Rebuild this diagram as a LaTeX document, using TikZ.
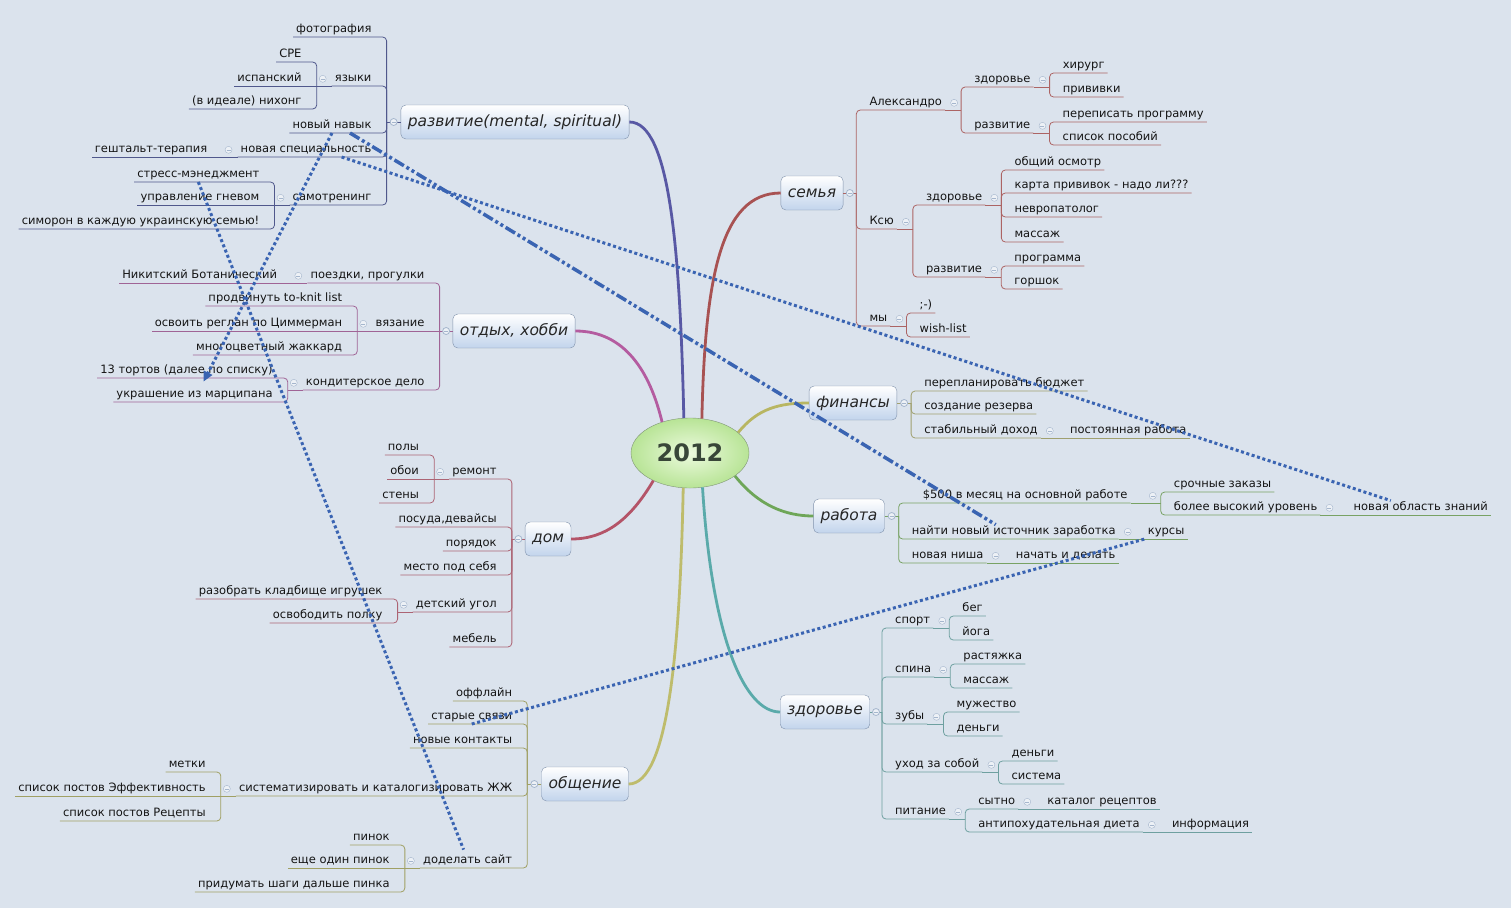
\documentclass[tikz,border=0pt]{standalone}
\usepackage{fontspec}
\setmainfont{DejaVu Sans}
\usetikzlibrary{arrows.meta,calc,shapes.geometric}

\definecolor{bgblue}{RGB}{219,227,237}
\definecolor{boxedge}{RGB}{128,146,172}
\definecolor{boxfill}{RGB}{194,212,236}
\definecolor{hubedge}{RGB}{128,150,118}
\definecolor{hubin}{RGB}{236,250,222}
\definecolor{hubout}{RGB}{184,228,150}
\definecolor{hubtext}{RGB}{56,70,56}
\definecolor{foldc}{RGB}{165,182,205}
\definecolor{relblue}{RGB}{58,100,178}
% ветки
\definecolor{craz}{RGB}{88,88,164}
\definecolor{cotd}{RGB}{180,92,160}
\definecolor{cdom}{RGB}{180,84,104}
\definecolor{cobs}{RGB}{190,188,108}
\definecolor{csem}{RGB}{168,82,82}
\definecolor{cfin}{RGB}{184,182,98}
\definecolor{crab}{RGB}{110,166,88}
\definecolor{czdr}{RGB}{90,170,170}
\definecolor{lnraz}{RGB}{80,88,140}
\definecolor{lnotd}{RGB}{160,100,150}
\definecolor{lndom}{RGB}{172,100,116}
\definecolor{lnobs}{RGB}{160,160,100}
\definecolor{lnsem}{RGB}{172,100,100}
\definecolor{lnfin}{RGB}{160,160,112}
\definecolor{lnrab}{RGB}{120,162,100}
\definecolor{lnzdr}{RGB}{110,160,160}

\begin{document}
\begin{tikzpicture}[x=1pt, y=-1pt,
  sub/.style={font=\fontsize{11.5}{13}\selectfont, text=black!92, inner xsep=3pt, inner ysep=1.5pt, text height=8.5pt, text depth=2.5pt},
  lt/.style={sub, anchor=south east},
  rt/.style={sub, anchor=south west},
  topic/.style={draw=boxedge, rounded corners=5pt, top color=white, bottom color=boxfill, font=\fontsize{15.5}{17}\selectfont\itshape, text=black!85, minimum height=34pt, inner xsep=7pt},
  hub/.style={ellipse, draw=hubedge, inner color=hubin, outer color=hubout, minimum width=118pt, minimum height=70pt, font=\fontsize{24}{26}\selectfont\bfseries, text=hubtext},
  fold/.style={circle, draw=foldc, fill=bgblue!50!white, inner sep=0pt, minimum size=7pt, path picture={\draw[foldc, line width=0.6pt] ([xshift=-2pt]path picture bounding box.center) -- ([xshift=2pt]path picture bounding box.center);}},
  sub line/.style={line width=0.8pt, rounded corners=4pt},
  lraz/.style={sub line, draw=lnraz}, lotd/.style={sub line, draw=lnotd},
  ldom/.style={sub line, draw=lndom}, lobs/.style={sub line, draw=lnobs},
  lsem/.style={sub line, draw=lnsem}, lfin/.style={sub line, draw=lnfin},
  lrab/.style={sub line, draw=lnrab}, lzdr/.style={sub line, draw=lnzdr},
  main line/.style={line width=2.8pt},
  mraz/.style={main line, draw=craz}, motd/.style={main line, draw=cotd},
  mdom/.style={main line, draw=cdom}, mobs/.style={main line, draw=cobs},
  msem/.style={main line, draw=csem}, mfin/.style={main line, draw=cfin},
  mrab/.style={main line, draw=crab}, mzdr/.style={main line, draw=czdr},
  rel/.style={draw=relblue, line width=3pt, dash pattern=on 3pt off 2.6pt},
  reldd/.style={draw=relblue, line width=3.5pt, dash pattern=on 11pt off 3pt on 3pt off 3pt on 3pt off 3pt}
]
\fill[bgblue] (0,0) rectangle (1511,908);
\useasboundingbox (0,0) rectangle (1511,908);

\node[hub] (year) at (690,453) {2012};

% развитие
\node[topic] (razv) at (515,122) {развитие(mental, spiritual)};
\coordinate (razv-t) at ([xshift=-14pt]razv.west);
\draw[lraz] (razv.west) -- node[fold] (razv-f) {} (razv-t);
\foreach \n/\dy/\txt in {foto/-85/фотография, yazyki/-36/языки, navyk/11/новый навык, spec/35/новая специальность, samotr/83/самотренинг} {
  \node[lt] (\n) at ($(razv-t)+(-12,\dy)$) {\txt};
  \draw[lraz] (razv-t) |- (\n.south west);
}
\foreach \p in {yazyki,spec,samotr} {
  \coordinate (\p-t) at ([xshift=-15pt]\p.south west);
  \draw[lraz] (\p.south west) -- (\p-t);
  \node[fold] (\p-f) at ([xshift=-9pt]\p.west) {};
}
\foreach \n/\p/\dy/\txt in {cpe/yazyki/-24/CPE, ispan/yazyki/0/испанский, nihong/yazyki/23/(в идеале) нихонг, gestalt/spec/0/гештальт-терапия, stress/samotr/-23/стресс-мэнеджмент, gnev/samotr/0/управление гневом, simoron/samotr/24/симорон в каждую украинскую семью!} {
  \node[lt] (\n) at ($(\p-t)+(-12,\dy)$) {\txt};
  \ifnum\dy=0 \draw[lraz] (\p-t) -- (\n.south west); \else \draw[lraz] (\p-t) |- (\n.south west); \fi
}

% отдых, хобби
\node[topic] (otdyh) at (514,331) {отдых, хобби};
\coordinate (otdyh-t) at ([xshift=-13pt]otdyh.west);
\draw[lotd] (otdyh.west) -- node[fold] (otdyh-f) {} (otdyh-t);
\foreach \n/\dy/\txt in {poezdki/-48/{поездки, прогулки}, vyaz/0/вязание, kond/59/кондитерское дело} {
  \node[lt] (\n) at ($(otdyh-t)+(-12,\dy)$) {\txt};
  \ifnum\dy=0 \draw[lotd] (otdyh-t) -- (\n.south west); \else \draw[lotd] (otdyh-t) |- (\n.south west); \fi
}
\foreach \p in {poezdki,vyaz,kond} {
  \coordinate (\p-t) at ([xshift=-15pt]\p.south west);
  \draw[lotd] (\p.south west) -- (\p-t);
  \node[fold] (\p-f) at ([xshift=-9pt]\p.west) {};
}
\foreach \n/\p/\dy/\txt in {nikit/poezdki/0/Никитский Ботанический, toknit/vyaz/-25/продвинуть to-knit list, reglan/vyaz/0/освоить реглан по Циммерман, zhakkard/vyaz/24/многоцветный жаккард, torty/kond/-12/13 тортов (далее по списку), ukrash/kond/12/украшение из марципана} {
  \node[lt] (\n) at ($(\p-t)+(-12,\dy)$) {\txt};
  \ifnum\dy=0 \draw[lotd] (\p-t) -- (\n.south west); \else \draw[lotd] (\p-t) |- (\n.south west); \fi
}

% дом
\node[topic] (dom) at (548,539) {дом};
\coordinate (dom-t) at ([xshift=-13pt]dom.west);
\draw[ldom] (dom.west) -- node[fold] (dom-f) {} (dom-t);
\foreach \n/\dy/\txt in {remont/-60/ремонт, posuda/-12/{посуда,девайсы}, poryadok/12/порядок, mesto/36/место под себя, detsk/73/детский угол, mebel/108/мебель} {
  \node[lt] (\n) at ($(dom-t)+(-12,\dy)$) {\txt};
  \draw[ldom] (dom-t) |- (\n.south west);
}
\foreach \p in {remont,detsk} {
  \coordinate (\p-t) at ([xshift=-15pt]\p.south west);
  \draw[ldom] (\p.south west) -- (\p-t);
  \node[fold] (\p-f) at ([xshift=-9pt]\p.west) {};
}
\foreach \n/\p/\dy/\txt in {poly/remont/-24/полы, oboi/remont/0/обои, steny/remont/24/стены, kladb/detsk/-13/разобрать кладбище игрушек, polka/detsk/11/освободить полку} {
  \node[lt] (\n) at ($(\p-t)+(-12,\dy)$) {\txt};
  \ifnum\dy=0 \draw[ldom] (\p-t) -- (\n.south west); \else \draw[ldom] (\p-t) |- (\n.south west); \fi
}

% общение
\node[topic] (obsch) at (585,784) {общение};
\coordinate (obsch-t) at ([xshift=-14pt]obsch.west);
\draw[lobs] (obsch.west) -- node[fold] (obsch-f) {} (obsch-t);
\foreach \n/\dy/\txt in {offline/-83/оффлайн, starye/-60/старые связи, novye/-36/новые контакты, sist/12/систематизировать и каталогизировать ЖЖ, sait/84/доделать сайт} {
  \node[lt] (\n) at ($(obsch-t)+(-12,\dy)$) {\txt};
  \draw[lobs] (obsch-t) |- (\n.south west);
}
\foreach \p in {sist,sait} {
  \coordinate (\p-t) at ([xshift=-15pt]\p.south west);
  \draw[lobs] (\p.south west) -- (\p-t);
  \node[fold] (\p-f) at ([xshift=-9pt]\p.west) {};
}
\foreach \n/\p/\dy/\txt in {metki/sist/-24/метки, effekt/sist/0/список постов Эффективность, recepty/sist/25/список постов Рецепты, pinok/sait/-23/пинок, pinok2/sait/0/еще один пинок, shagi/sait/24/придумать шаги дальше пинка} {
  \node[lt] (\n) at ($(\p-t)+(-12,\dy)$) {\txt};
  \ifnum\dy=0 \draw[lobs] (\p-t) -- (\n.south west); \else \draw[lobs] (\p-t) |- (\n.south west); \fi
}

% семья
\node[topic] (semya) at (812,193) {семья};
\coordinate (semya-t) at ([xshift=13pt]semya.east);
\draw[lsem] (semya.east) -- node[fold] (semya-f) {} (semya-t);
\foreach \n/\dy/\txt in {aleks/-83/Александро, ksyu/36/Ксю, my/133/мы} {
  \node[rt] (\n) at ($(semya-t)+(10,\dy)$) {\txt};
  \draw[lsem] (semya-t) |- (\n.south east);
}
\foreach \p in {aleks,ksyu,my} {
  \coordinate (\p-t) at ([xshift=16pt]\p.south east);
  \draw[lsem] (\p.south east) -- (\p-t);
  \node[fold] (\p-f) at ([xshift=9pt]\p.east) {};
}
\foreach \n/\p/\dy/\txt in {azdr/aleks/-23/здоровье, araz/aleks/23/развитие, kzdr/ksyu/-24/здоровье, kraz/ksyu/48/развитие, smile/my/-13/;-), wish/my/11/wish-list} {
  \node[rt] (\n) at ($(\p-t)+(10,\dy)$) {\txt};
  \draw[lsem] (\p-t) |- (\n.south east);
}
\foreach \p in {azdr,araz,kzdr,kraz} {
  \coordinate (\p-t) at ([xshift=16pt]\p.south east);
  \draw[lsem] (\p.south east) -- (\p-t);
  \node[fold] (\p-f) at ([xshift=9pt]\p.east) {};
}
\foreach \n/\p/\dy/\txt in {hirurg/azdr/-14/хирург, privivki/azdr/10/прививки, perepis/araz/-11/переписать программу, posobiy/araz/12/список пособий, osmotr/kzdr/-35/общий осмотр, karta/kzdr/-12/карта прививок - надо ли???, nevro/kzdr/12/невропатолог, massazh/kzdr/37/массаж, programma/kraz/-11/программа, gorshok/kraz/12/горшок} {
  \node[rt] (\n) at ($(\p-t)+(10,\dy)$) {\txt};
  \draw[lsem] (\p-t) |- (\n.south east);
}

% финансы
\node[topic] (fin) at (853,403) {финансы};
\coordinate (fin-t) at ([xshift=14pt]fin.east);
\draw[lfin] (fin.east) -- node[fold] (fin-f) {} (fin-t);
\foreach \n/\dy/\txt in {budzhet/-12/перепланировать бюджет, rezerv/11/создание резерва, dohod/35/стабильный доход} {
  \node[rt] (\n) at ($(fin-t)+(10,\dy)$) {\txt};
  \draw[lfin] (fin-t) |- (\n.south east);
}
\coordinate (dohod-t) at ([xshift=16pt]dohod.south east);
\draw[lfin] (dohod.south east) -- (dohod-t);
\node[fold] (dohod-f) at ([xshift=9pt]dohod.east) {};
\node[rt] (postoyan) at ($(dohod-t)+(10,0)$) {постоянная работа};
\draw[lfin] (dohod-t) -- (postoyan.south east);

% работа
\node[topic] (rab) at (849,516) {работа};
\coordinate (rab-t) at ([xshift=14pt]rab.east);
\draw[lrab] (rab.east) -- node[fold] (rab-f) {} (rab-t);
\node[rt] (dollar) at ($(rab-t)+(21,-13)$) {\$500 в месяц на основной работе};
\draw[lrab] (rab-t) |- (dollar.south east);
\foreach \n/\dy/\txt in {nayti/23/найти новый источник заработка, nisha/47/новая ниша} {
  \node[rt] (\n) at ($(rab-t)+(10,\dy)$) {\txt};
  \draw[lrab] (rab-t) |- (\n.south east);
}
\coordinate (dollar-t) at ([xshift=30pt]dollar.south east);
\draw[lrab] (dollar.south east) -- (dollar-t);
\node[fold] (dollar-f) at ([xshift=22pt]dollar.east) {};
\foreach \p in {nayti,nisha} {
  \coordinate (\p-t) at ([xshift=16pt]\p.south east);
  \draw[lrab] (\p.south east) -- (\p-t);
  \node[fold] (\p-f) at ([xshift=9pt]\p.east) {};
}
\foreach \n/\p/\dy/\txt in {srochno/dollar/-11/срочные заказы, uroven/dollar/12/более высокий уровень, kursy/nayti/0/курсы, nachat/nisha/0/начать и делать} {
  \node[rt] (\n) at ($(\p-t)+(10,\dy)$) {\txt};
  \ifnum\dy=0 \draw[lrab] (\p-t) -- (\n.south east); \else \draw[lrab] (\p-t) |- (\n.south east); \fi
}
\coordinate (uroven-t) at ([xshift=20pt]uroven.south east);
\draw[lrab] (uroven.south east) -- (uroven-t);
\node[fold] (uroven-f) at ([xshift=9pt]uroven.east) {};
\node[rt] (oblast) at ($(uroven-t)+(10,0)$) {новая область знаний};
\draw[lrab] (uroven-t) -- (oblast.south east);

% здоровье
\node[topic] (zdor) at (825,712) {здоровье};
\coordinate (zdor-t) at ([xshift=12pt]zdor.east);
\draw[lzdr] (zdor.east) -- node[fold] (zdor-f) {} (zdor-t);
\foreach \n/\dy/\txt in {sport/-84/спорт, spina/-35/спина, zuby/12/зубы, uhod/60/уход за собой, pitanie/107/питание} {
  \node[rt] (\n) at ($(zdor-t)+(10,\dy)$) {\txt};
  \draw[lzdr] (zdor-t) |- (\n.south east);
  \coordinate (\n-t) at ([xshift=16pt]\n.south east);
  \draw[lzdr] (\n.south east) -- (\n-t);
  \node[fold] (\n-f) at ([xshift=9pt]\n.east) {};
}
\foreach \n/\p/\dy/\txt in {beg/sport/-12/бег, yoga/sport/12/йога, rastyazh/spina/-13/растяжка, massazh2/spina/11/массаж, muzh/zuby/-12/мужество, dengi/zuby/12/деньги, dengi2/uhod/-11/деньги, sistema/uhod/12/система, sytno/pitanie/-10/сытно, dieta/pitanie/13/антипохудательная диета} {
  \node[rt] (\n) at ($(\p-t)+(10,\dy)$) {\txt};
  \draw[lzdr] (\p-t) |- (\n.south east);
}
\foreach \p/\n/\txt in {sytno/katalog/каталог рецептов, dieta/info/информация} {
  \coordinate (\p-t) at ([xshift=16pt]\p.south east);
  \draw[lzdr] (\p.south east) -- (\p-t);
  \node[fold] (\p-f) at ([xshift=9pt]\p.east) {};
  \node[rt] (\n) at ($(\p-t)+(10,0)$) {\txt};
  \draw[lzdr] (\p-t) -- (\n.south east);
}

% ветки от центра
\draw[mraz] (year.100) .. controls (680,250) and (670,122) .. (razv.east);
\draw[motd] (year.132) .. controls (650,372) and (625,331) .. (otdyh.east);
\draw[mdom] (year.217) .. controls (630,520) and (605,539) .. (dom.east);
\draw[mobs] (year.259) .. controls (680,650) and (668,784) .. (obsch.east);
\draw[msem] (year.71) .. controls (705,280) and (720,193) .. (semya.west);
\draw[mfin] (year.23) .. controls (758,408) and (780,403) .. (fin.west);
\draw[mrab] (year.333) .. controls (758,505) and (785,516) .. (rab.west);
\draw[mzdr] (year.290) .. controls (712,640) and (745,712) .. (zdor.west);

% связи
\draw[rel, -{Triangle[length=10pt, width=9pt]}] (navyk.south) -- ([xshift=9pt, yshift=6pt]ukrash.north);
\draw[rel] (stress.south) -- ([xshift=-4pt, yshift=4pt]sait.north);
\draw[reldd] ([xshift=18pt]navyk.south) -- ([xshift=-18pt]nayti.north);
\draw[rel] ([xshift=-33pt]spec.south east) -- ([xshift=-30pt]oblast.north);
\draw[rel] (starye.south) -- (kursy.south west);
\end{tikzpicture}
\end{document}
